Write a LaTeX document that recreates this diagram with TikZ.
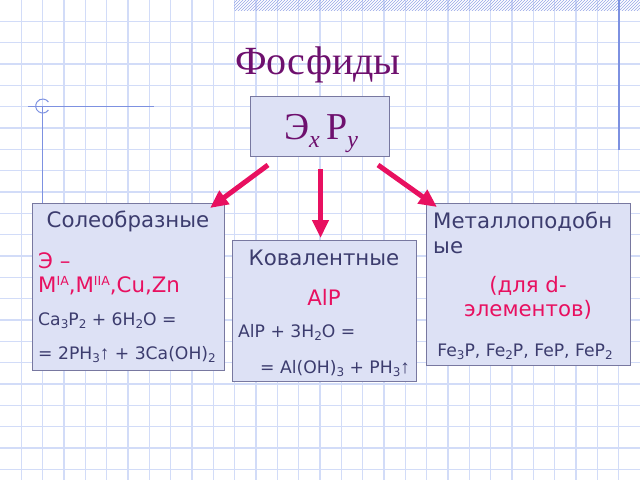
\documentclass[tikz,border=0pt]{standalone}
\usepackage{fontspec}
\setmainfont{DejaVu Sans}
\newfontfamily\seriffont{Liberation Serif}
\usetikzlibrary{arrows.meta,calc,patterns}
\definecolor{gridc}{RGB}{210,220,248}
\definecolor{decoc}{RGB}{125,145,225}
\definecolor{boxfill}{RGB}{221,225,245}
\definecolor{boxline}{RGB}{120,120,160}
\definecolor{txt}{RGB}{60,60,110}
\definecolor{pinkc}{RGB}{232,16,96}
\definecolor{titlec}{RGB}{110,16,110}
\newcommand\mysub[1]{\raisebox{-3.5pt}{\fontsize{12}{12}\selectfont #1}}
\newcommand\mysup[1]{\raisebox{7pt}{\fontsize{12.5}{12.5}\selectfont #1}}
\newcommand\upar{{\seriffont\fontsize{19}{19}\selectfont ↑}}
\tikzset{
  gridline/.style={draw=gridc, line width=1.2pt},
  deco/.style={draw=decoc, line width=1pt},
  box/.style={draw=boxline, fill=boxfill, line width=1pt, inner sep=0pt, anchor=north west},
  big/.style={inner sep=0pt, text=txt, font=\fontsize{21.3}{25}\selectfont},
  bigpink/.style={inner sep=0pt, text=pinkc, font=\fontsize{21.3}{25}\selectfont},
  small/.style={inner sep=0pt, text=txt, font=\fontsize{17.2}{20}\selectfont},
  arr/.style={draw=pinkc, line width=5pt, -{Triangle[length=18pt,width=16pt]}},
}
\begin{document}
\begin{tikzpicture}[x=1pt,y=-1pt]
\useasboundingbox (0,0) rectangle (640,480);
\fill[white] (0,0) rectangle (640,480);
% grid paper
\foreach \i in {1,...,29} \draw[gridline] (\i*21.333,0) -- (\i*21.333,480);
\foreach \j in {1,...,22} \draw[gridline] (0,\j*21.333) -- (640,\j*21.333);
% top hatched band
\fill[pattern=north east lines, pattern color=decoc!80] (234,0) rectangle (640,10);
% decorative lines
\draw[deco, line width=1.5pt] (619,0) -- (619,150);
\draw[deco] (28,106) -- (154,106);
\draw[deco] (42.7,106) -- (42.7,250);
\draw[deco] (42.7,106) ++(35:7) arc[start angle=35, end angle=325, radius=7];
% title
\node[inner sep=0pt, text=titlec, font=\seriffont\fontsize{40}{44}\selectfont, anchor=base] (title) at (318,74) {Фосфиды};
% formula box
\node[box, minimum width=139pt, minimum height=60pt] (f) at (250,96) {};
\node[inner sep=0pt, text=titlec, font=\seriffont\fontsize{38}{40}\selectfont, anchor=base] (ftext) at (321,139)
  {Э\raisebox{-8pt}{\fontsize{24}{24}\selectfont\itshape x}\,P\raisebox{-8pt}{\fontsize{24}{24}\selectfont\itshape y}};
% boxes
\node[box, minimum width=192pt, minimum height=167pt] (lb) at (32,203) {};
\node[box, minimum width=184pt, minimum height=141pt] (mb) at (232,240) {};
\node[box, minimum width=204pt, minimum height=162pt] (rb) at (426,203) {};
% left box text
\node[big, anchor=base] (l1) at (128,227) {Солеобразные};
\node[bigpink, anchor=base west] (l2) at (38,268) {Э –};
\node[bigpink, anchor=base west] (l3) at (38,292) {M\mysup{IA},M\mysup{IIA},Cu,Zn};
\node[small, anchor=base west] (l4) at (38,325) {Ca\mysub{3}P\mysub{2} + 6H\mysub{2}O =};
\node[small, anchor=base west] (l5) at (38,359) {= 2PH\mysub{3}\upar{} + 3Ca(OH)\mysub{2}};
% middle box text
\node[big, anchor=base] (m1) at (324,265) {Ковалентные};
\node[bigpink, anchor=base] (m2) at (324,305) {AlP};
\node[small, anchor=base west] (m3) at (238,337) {AlP + 3H\mysub{2}O =};
\node[small, anchor=base west] (m4) at (260,373) {= Al(OH)\mysub{3} + PH\mysub{3}\upar};
% right box text
\node[big, anchor=base west] (r1) at (433,228) {Металлоподобн};
\node[big, anchor=base west] (r2) at (433,253) {ые};
\node[bigpink, anchor=base] (r3) at (528,292) {(для d-};
\node[bigpink, anchor=base] (r4) at (528,316) {элементов)};
\node[small, anchor=base] (r5) at (525,356) {Fe\mysub{3}P, Fe\mysub{2}P, FeP, FeP\mysub{2}};
% arrows
\draw[arr] ($(f.south west)+(18,8)$) -- ($(lb.north east)+(-15,5)$);
\draw[arr] ($(f.south)+(0.5,12)$) -- ($(mb.north)+(-4,-2)$);
\draw[arr] ($(f.south east)+(-12,8)$) -- ($(rb.north west)+(11,4)$);
\end{tikzpicture}
\end{document}
